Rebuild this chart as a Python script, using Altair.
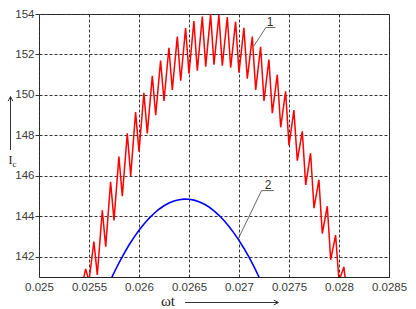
import altair as alt
import pandas as pd

# ---- data ----
# curve 1 (red): alternating peaks / troughs of the ripple current
peak_t = [0.025466, 0.025549, 0.025633, 0.025716, 0.025799, 0.025883, 0.025966, 0.026049,
          0.026133, 0.026216, 0.026299, 0.026383, 0.026466, 0.026549, 0.026633, 0.026716,
          0.026799, 0.026883, 0.026966, 0.027049, 0.027133, 0.027216, 0.027299, 0.027383,
          0.027466, 0.027549, 0.027633, 0.027716, 0.027799, 0.027883, 0.027966, 0.028049]
peak_ic = [141.4, 142.75, 144.3, 145.7, 146.95, 148.1, 149.15, 150.1,
           150.95, 151.7, 152.33, 152.88, 153.3, 153.65, 153.87, 153.98,
           153.95, 153.85, 153.62, 153.32, 152.88, 152.38, 151.75, 151.0,
           150.18, 149.25, 148.2, 147.12, 145.8, 144.5, 143.07, 141.5]
trough_t = [0.025500, 0.025583, 0.025667, 0.025750, 0.025833, 0.025917, 0.026000, 0.026083,
            0.026167, 0.026250, 0.026333, 0.026417, 0.026500, 0.026583, 0.026667, 0.026750,
            0.026833, 0.026917, 0.027000, 0.027083, 0.027167, 0.027250, 0.027333, 0.027417,
            0.027500, 0.027583, 0.027667, 0.027750, 0.027833, 0.027917, 0.028000, 0.028083]
trough_ic = [140.8, 141.1, 142.5, 143.8, 145.0, 146.0, 147.2, 148.1,
             149.0, 149.7, 150.25, 150.7, 151.05, 151.2, 151.4, 151.5,
             151.45, 151.35, 151.1, 150.8, 150.25, 149.7, 149.1, 148.4,
             147.5, 146.75, 145.55, 144.4, 143.15, 141.85, 140.8, 140.0]
red_start_t = [0.025400]
red_start_ic = [139.8]

# curve 2 (blue): smooth fundamental
blue_t = [0.02570, 0.02575, 0.02580, 0.02585, 0.02590, 0.02595, 0.02600, 0.02605,
          0.02610, 0.02615, 0.02620, 0.02625, 0.02630, 0.02635, 0.02640, 0.02645,
          0.02650, 0.02655, 0.02660, 0.02665, 0.02670, 0.02675, 0.02680, 0.02685,
          0.02690, 0.02695, 0.02700, 0.02705, 0.02710, 0.02715, 0.02720, 0.02725]
blue_ic = [140.68, 141.21, 141.70, 142.15, 142.58, 142.96, 143.31, 143.62,
           143.90, 144.14, 144.35, 144.52, 144.66, 144.76, 144.82, 144.85,
           144.84, 144.80, 144.72, 144.61, 144.46, 144.27, 144.05, 143.79,
           143.50, 143.17, 142.81, 142.41, 141.98, 141.51, 141.00, 140.46]

# callouts
leader1_t = [0.027148, 0.027268, 0.027365]
leader1_ic = [152.41, 153.33, 153.33]
leader2_t = [0.026991, 0.027225, 0.027348]
leader2_ic = [142.87, 145.27, 145.27]
label_text = ["1", "2"]
label_t = [0.027310, 0.027292]
label_ic = [153.42, 145.36]

x_ticks = [0.025, 0.0255, 0.026, 0.0265, 0.027, 0.0275, 0.028, 0.0285]
y_ticks = [142, 144, 146, 148, 150, 152, 154]

# ---- tables ----
red_rows = [{"t": red_start_t[0], "ic": red_start_ic[0]}]
for pt, pi, tt, ti in zip(peak_t, peak_ic, trough_t, trough_ic):
    red_rows.append({"t": pt, "ic": pi})
    red_rows.append({"t": tt, "ic": ti})
red = pd.DataFrame(red_rows)
red["o"] = range(len(red))
blue = pd.DataFrame({"t": blue_t, "ic": blue_ic})
lead = pd.DataFrame({"t": leader1_t + leader2_t, "ic": leader1_ic + leader2_ic,
                     "g": ["1"] * 3 + ["2"] * 3, "o": list(range(6))})
labels = pd.DataFrame({"t": label_t, "ic": label_ic, "txt": label_text})

W, H = 350, 263
xs = alt.Scale(domain=[0.025, 0.0285], nice=False, zero=False)
ys = alt.Scale(domain=[141, 154], nice=False, zero=False)

xax = alt.Axis(values=x_ticks, labelExpr="format(datum.value, '.4~f')", title=None,
               grid=True, gridDash=[3, 2], gridColor="#333", gridWidth=1, gridOpacity=1,
               tickSize=0, labelPadding=4, domain=False, labelFontSize=11.5,
               labelFont="Liberation Sans", labelColor="#3a3a3a", labelFlush=False)
yax = alt.Axis(values=y_ticks, title=None, grid=True, gridDash=[3, 2], gridColor="#333",
               gridWidth=1, gridOpacity=1, tickSize=4, tickColor="#333", labelPadding=1,
               domain=False, labelFontSize=11.5, labelFont="Liberation Sans",
               labelColor="#3a3a3a", labelFlush=False)

base_grid = alt.Chart(blue).mark_line(opacity=0).encode(
    x=alt.X("t:Q", scale=xs, axis=xax),
    y=alt.Y("ic:Q", scale=ys, axis=yax),
)

red_line = alt.Chart(red).mark_line(color="#ff0000", strokeWidth=1.5, clip=True).encode(
    x=alt.X("t:Q", scale=xs), y=alt.Y("ic:Q", scale=ys), order="o:O")
blue_line = alt.Chart(blue).mark_line(color="#0000ff", strokeWidth=1.6, clip=True).encode(
    x=alt.X("t:Q", scale=xs), y=alt.Y("ic:Q", scale=ys))
lead_line = alt.Chart(lead).mark_line(color="#555", strokeWidth=0.9).encode(
    x=alt.X("t:Q", scale=xs), y=alt.Y("ic:Q", scale=ys), detail="g:N", order="o:O")
lab = alt.Chart(labels).mark_text(fontSize=12, font="Liberation Sans", color="#333",
                                  baseline="alphabetic", align="center").encode(
    x=alt.X("t:Q", scale=xs), y=alt.Y("ic:Q", scale=ys), text="txt:N")

# axis titles with arrows (placed in pixels, outside the plot)
deco = pd.DataFrame({"k": [0]})
x_title = alt.Chart(deco).mark_text(text="ωt", font="Liberation Serif", fontSize=15,
                                    color="#222", align="center", baseline="alphabetic").encode(
    x=alt.value(129), y=alt.value(292))
x_arrow = alt.Chart(deco).mark_rule(color="#333", strokeWidth=1).encode(
    x=alt.value(146), x2=alt.value(239), y=alt.value(288.5))
x_head = alt.Chart(deco).mark_point(shape="M-1,-0.5L0,0L-1,0.5", filled=False, size=90,
                                    color="#333", strokeWidth=1, opacity=1).encode(
    x=alt.value(239.5), y=alt.value(288.5))
y_title = alt.Chart(deco).mark_text(text="I", font="Liberation Serif", fontSize=12,
                                    color="#222", align="center", baseline="alphabetic").encode(
    x=alt.value(-28.5), y=alt.value(149.5))
y_sub = alt.Chart(deco).mark_text(text="c", font="Liberation Serif", fontSize=9,
                                  color="#222", align="center", baseline="alphabetic").encode(
    x=alt.value(-24.5), y=alt.value(153))
y_arrow = alt.Chart(deco).mark_rule(color="#333", strokeWidth=1).encode(
    x=alt.value(-28.5), y=alt.value(136), y2=alt.value(83))
y_head = alt.Chart(deco).mark_point(shape="M-0.5,1L0,0L0.5,1", filled=False, size=90,
                                    color="#333", strokeWidth=1, opacity=1).encode(
    x=alt.value(-28.5), y=alt.value(82.5))

chart = alt.layer(base_grid, blue_line, red_line, lead_line, lab,
                  x_title, x_arrow, x_head, y_title, y_sub, y_arrow, y_head).properties(
    width=W, height=H,
    autosize=alt.AutoSizeParams(type="none"),
    padding={"left": 39, "top": 14, "right": 27, "bottom": 32},
    background="white",
).configure_view(stroke="#222", strokeWidth=1)

chart.save("out.html", embed_options={"renderer": "svg", "actions": False})
